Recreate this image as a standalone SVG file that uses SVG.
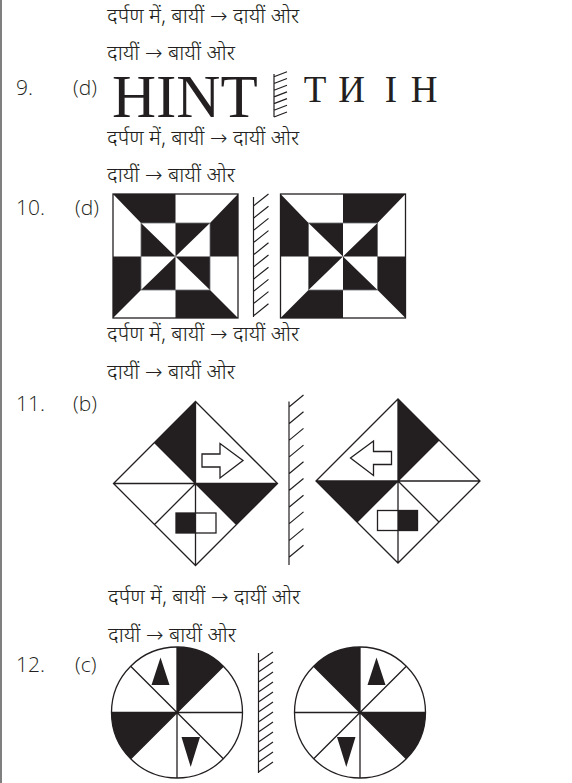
<svg xmlns="http://www.w3.org/2000/svg" width="572" height="783" viewBox="0 0 572 783">
<style>
.hi{font-family:"Noto Sans Devanagari","Noto Sans","DejaVu Sans",sans-serif;font-size:21px;fill:#231f20;font-weight:300}
.lb{font-family:"Open Sans","Lato",sans-serif;font-size:21px;fill:#231f20;font-weight:300}
.sr{font-family:"Liberation Serif","Times New Roman",serif;fill:#231f20}
.blk{fill:#231f20;stroke:none}
.ln{stroke:#231f20;stroke-width:1.3;fill:none}
.thin{stroke:#6d6e71;stroke-width:0.8;fill:none}
.mir{stroke:#231f20;stroke-width:1.2;fill:none}
</style>
<defs>
<g id="squareShape">
<rect x="113" y="194" width="125" height="124" fill="#fff"/>
<path class="blk" d="M113,194H175.5V223H141Z M238,194V256.5H210V223Z M238,318H175.5V290H210Z M113,318V256.5H141V290Z M141,223L141,256.5L175.5,256.5Z M175.5,223H210L175.5,256.5Z M175.5,256.5H210V290Z M175.5,256.5V290H141Z"/>
<rect class="thin" x="141" y="223" width="69" height="67"/>
<rect class="ln" x="113" y="194" width="125" height="124"/>
</g>
<g id="diamondShape">
<path class="blk" d="M195.5,401.5L154.5,442.5L195.5,483.5Z M195.5,483.5L277.5,483.5L236.5,524.5Z"/>
<rect class="blk" x="176" y="513" width="19.5" height="20"/>
<rect class="ln" x="176" y="513" width="40" height="20" stroke-width="1.1"/>
<path class="ln" d="M195.5,401.5L277.5,483.5L195.5,565.5L113.5,483.5Z M195.5,401.5V565.5 M113.5,483.5H277.5 M195.5,483.5L154.5,442.5 M195.5,483.5L154.5,524.5 M195.5,483.5L236.5,524.5"/>
<path class="ln" stroke-width="1.1" d="M202,454H220V443.5L243,460.5L220,478V467H202Z"/>
</g>
<g id="circleShape">
<circle cx="177" cy="712.5" r="65.5" fill="#fff"/>
<path class="blk" d="M177,712.5V647A65.5,65.5 0 0 1 223.32,666.18Z M177,712.5H111.5A65.5,65.5 0 0 0 130.68,758.82Z"/>
<path class="ln" d="M177,647V778 M111.5,712.5H242.5 M130.68,666.18L223.32,758.82 M223.32,666.18L130.68,758.82"/>
<circle class="ln" cx="177" cy="712.5" r="65.5"/>
<path class="blk" d="M160.5,657.5L169.5,685L151.5,685Z M181.5,737H200L190.7,767Z"/>
</g>
</defs>

<line x1="1" y1="0" x2="1" y2="783" stroke="#555" stroke-width="1.5"/>

<g id="q9-text">
<text class="hi" x="107" y="22.5">दर्पण  में, बायीं → दायीं ओर</text>
<text class="hi" x="107" y="60">दायीं → बायीं ओर</text>
<text class="lb" x="16" y="95">9.</text>
<text class="lb" x="73" y="95">(d)</text>
</g>
<g id="q9-original"><text class="sr" x="112" y="117" font-size="61">HINT</text></g>
<g id="q9-mirror"><path class="mir" d="M274,74V117 M274,117L287,112 M274,110.3L287,105.3 M274,103.6L287,98.6 M274,96.9L287,91.9 M274,90.2L287,85.2 M274,83.5L287,78.5 M274,76.8L287,71.8"/></g>
<g id="q9-image" class="sr" font-size="37" text-anchor="middle">
<text x="315" y="101.5">T</text>
<text x="351.5" y="101.5">И</text>
<text x="391" y="101.5">I</text>
<text x="424" y="101.5">H</text>
</g>

<g id="q10-text">
<text class="hi" x="107" y="145">दर्पण  में, बायीं → दायीं ओर</text>
<text class="hi" x="107" y="182">दायीं → बायीं ओर</text>
<text class="lb" x="16" y="215">10.</text>
<text class="lb" x="75" y="215">(d)</text>
</g>
<g id="q10-original"><use href="#squareShape"/></g>
<g id="q10-mirror"><path class="mir" d="M253.5,197V317 M253.5,206L268.5,194 M253.5,218.2L268.5,206.2 M253.5,230.4L268.5,218.4 M253.5,242.6L268.5,230.6 M253.5,254.8L268.5,242.8 M253.5,267L268.5,255 M253.5,279.2L268.5,267.2 M253.5,291.4L268.5,279.4 M253.5,303.6L268.5,291.6 M253.5,315.8L268.5,303.8"/></g>
<g id="q10-image"><use href="#squareShape" transform="matrix(-1 0 0 1 518.5 0)"/></g>

<g id="q11-text">
<text class="hi" x="107" y="341">दर्पण  में, बायीं → दायीं ओर</text>
<text class="hi" x="107" y="379">दायीं → बायीं ओर</text>
<text class="lb" x="16" y="411">11.</text>
<text class="lb" x="73" y="411">(b)</text>
</g>
<g id="q11-original"><use href="#diamondShape"/></g>
<g id="q11-mirror"><path class="mir" d="M289,401.5V565 M289,407L303.5,395 M289,423.7L303.5,411.7 M289,440.4L303.5,428.4 M289,457.1L303.5,445.1 M289,473.8L303.5,461.8 M289,490.5L303.5,478.5 M289,507.2L303.5,495.2 M289,523.9L303.5,511.9 M289,540.6L303.5,528.6 M289,557.3L303.5,545.3"/></g>
<g id="q11-image"><use href="#diamondShape" transform="matrix(-1 0 0 1 593.5 -2.5)"/></g>

<g id="q12-text">
<text class="hi" x="108" y="604">दर्पण  में, बायीं → दायीं ओर</text>
<text class="hi" x="108" y="642">दायीं → बायीं ओर</text>
<text class="lb" x="16" y="672">12.</text>
<text class="lb" x="75" y="672">(c)</text>
</g>
<g id="q12-original"><use href="#circleShape"/></g>
<g id="q12-mirror"><path class="mir" d="M258.5,653V773 M258.5,662L273,652 M258.5,672L273,662 M258.5,682L273,672 M258.5,692L273,682 M258.5,702L273,692 M258.5,712L273,702 M258.5,722L273,712 M258.5,732L273,722 M258.5,742L273,732 M258.5,752L273,742 M258.5,762L273,752 M258.5,772L273,762"/></g>
<g id="q12-image"><use href="#circleShape" transform="matrix(-1 0 0 1 537 0)"/></g>
</svg>
